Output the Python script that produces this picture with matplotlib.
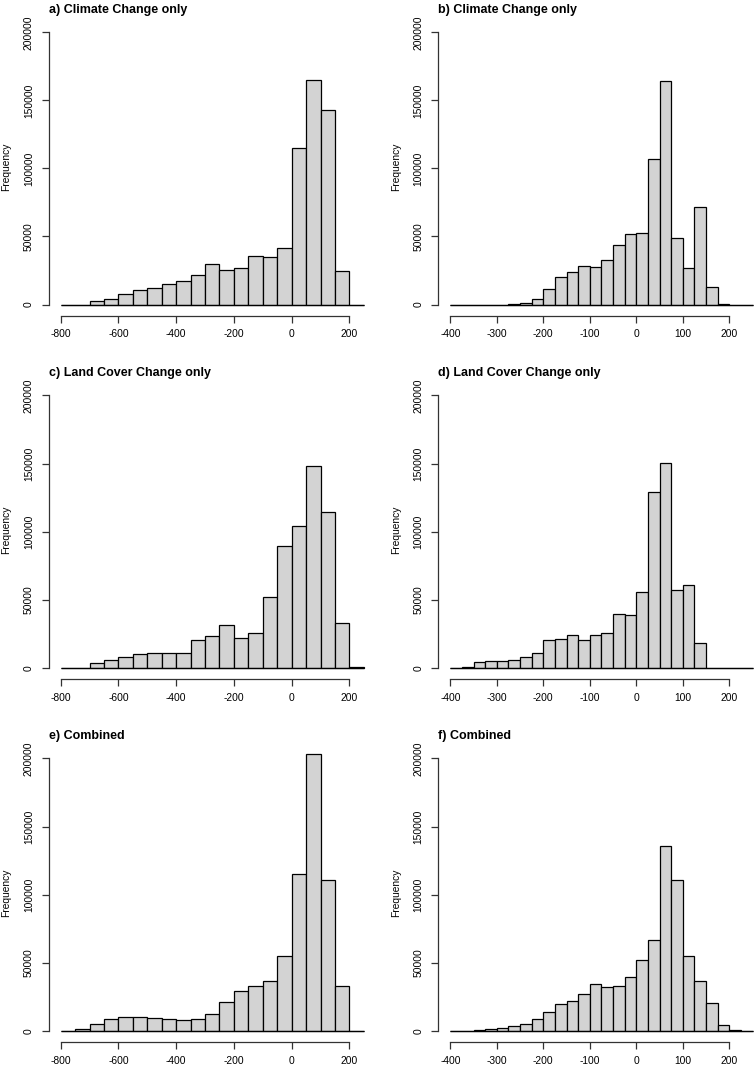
import numpy as np
import matplotlib
matplotlib.use("Agg")
import matplotlib.pyplot as plt

plt.rcParams['font.family'] = ['Liberation Sans', 'DejaVu Sans']

# bin edges (left column width 50, right column width 25)
edges_left = np.arange(-800, 251, 50)
edges_right = np.arange(-400, 251, 25)

# counts per bin
counts_a = [0, 0, 2500, 4400, 7400, 10500, 11800, 15400, 16900, 21600, 29400,
            25000, 26500, 35300, 34600, 41200, 114700, 164700, 142900, 24800, 0]
counts_c = [0, 0, 3200, 5400, 8100, 9800, 10500, 10800, 11000, 20100, 23500,
            31600, 22000, 25200, 52000, 89700, 103900, 148300, 114700, 33100, 500]
counts_e = [0, 1500, 5100, 8600, 10300, 10300, 9300, 8600, 8100, 8800, 12500,
            21000, 29100, 33000, 36700, 55100, 115000, 203200, 110900, 33000, 0]

counts_b = [0, 0, 0, 0, 0, 300, 800, 4400, 11300, 20100, 24000, 28400, 27900,
            32800, 43400, 51500, 52500, 106600, 164000, 48500, 26500, 71300,
            12900, 500, 0, 0]
counts_d = [0, 500, 3900, 4900, 5100, 5900, 7600, 11000, 20100, 21300, 23800,
            20100, 23800, 25700, 39700, 38500, 55400, 129200, 150500, 56900,
            60500, 17900, 0, 0, 0, 0]
counts_f = [0, 100, 500, 1000, 1700, 3200, 5100, 8300, 14000, 19600, 22000,
            27200, 34300, 32100, 33000, 39400, 52100, 66300, 135600, 110400,
            54600, 36700, 20600, 4400, 200, 0]

titles = ["a) Climate Change only", "b) Climate Change only",
          "c) Land Cover Change only", "d) Land Cover Change only",
          "e) Combined", "f) Combined"]
xticks_left = [-800, -600, -400, -200, 0, 200]
xticks_right = [-400, -300, -200, -100, 0, 100, 200]
yticks = [0, 50000, 100000, 150000, 200000]

W, H = 755, 1066
fig = plt.figure(figsize=(W / 100, H / 100), dpi=100)

ymax = 202500
ylim = (-0.04 * ymax, 1.04 * ymax)
py_per_unit = 272.2 / 200000
zero_rows = [304.5, 667.7, 1030.7]

panels = [
    (counts_a, edges_left, xticks_left, 0),
    (counts_b, edges_right, xticks_right, 1),
    (counts_c, edges_left, xticks_left, 0),
    (counts_d, edges_right, xticks_right, 1),
    (counts_e, edges_left, xticks_left, 0),
    (counts_f, edges_right, xticks_right, 1),
]

for i, (counts, edges, xticks, col) in enumerate(panels):
    row = i // 2
    if col == 0:
        xlim = (-842, 292)
        px_per_unit = 0.2887
        x0 = 60.7 - 42 * px_per_unit
    else:
        xlim = (-426, 276)
        px_per_unit = 0.465
        x0 = 450.3 - 26 * px_per_unit
    w = (xlim[1] - xlim[0]) * px_per_unit
    top = zero_rows[row] - ylim[1] * py_per_unit
    h = (ylim[1] - ylim[0]) * py_per_unit
    ax = fig.add_axes([x0 / W, 1 - (top + h) / H, w / W, h / H])
    ax.set_xlim(xlim)
    ax.set_ylim(ylim)

    widths = np.diff(edges)
    ax.bar(edges[:-1], counts, width=widths, align='edge',
           color='#D3D3D3', edgecolor='black', linewidth=0.9, clip_on=False)
    ax.hlines(0, edges[0], edges[-1], color='black', linewidth=0.9)

    for s in ['top', 'right']:
        ax.spines[s].set_visible(False)
    ax.spines['bottom'].set_bounds(xticks[0], xticks[-1])
    ax.spines['left'].set_bounds(0, 200000)
    for s in ['bottom', 'left']:
        ax.spines[s].set_linewidth(0.9)
        ax.spines[s].set_color('#333333')
    ax.set_xticks(xticks)
    ax.set_xticklabels([str(t) for t in xticks])
    ax.set_yticks(yticks)
    ax.set_yticklabels([str(t) for t in yticks], rotation=90, va='center')
    ax.tick_params(axis='both', direction='out', length=5, width=0.9,
                   color='#333333', labelsize=7.4, pad=5)
    ax.tick_params(axis='y', pad=5.5)
    ax.set_ylabel("Frequency", fontsize=7.4, labelpad=9)
    ax.set_title(titles[i], loc='left', fontsize=9.0, fontweight='bold', pad=3.5)

fig.savefig("out.png", dpi=100)
